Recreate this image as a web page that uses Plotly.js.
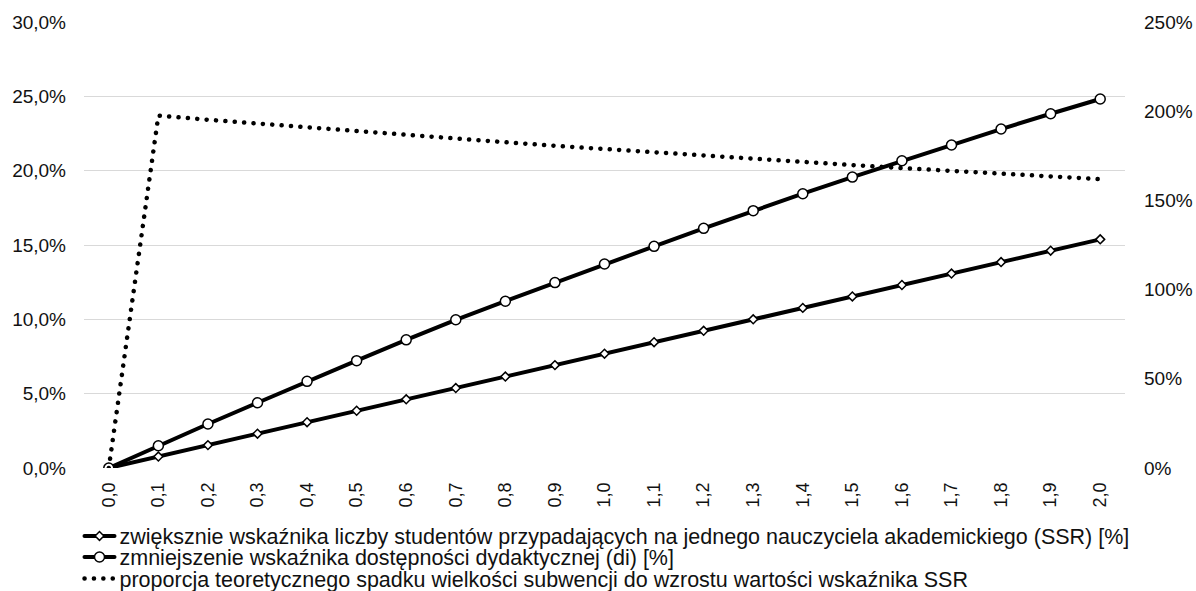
<!DOCTYPE html>
<html><head><meta charset="utf-8">
<script src="https://cdn.plot.ly/plotly-3.0.1.min.js"></script>
<style>html,body{margin:0;padding:0;background:#fff}#chart{width:1196px;height:591px}</style>
</head><body><div id="chart"></div>
<script>
const categories = ['0,0','0,1','0,2','0,3','0,4','0,5','0,6','0,7','0,8','0,9','1,0','1,1','1,2','1,3','1,4','1,5','1,6','1,7','1,8','1,9','2,0'];
const ssrIncrease = [0, 0.77, 1.54, 2.31, 3.08, 3.85, 4.62, 5.38, 6.15, 6.92, 7.69, 8.46, 9.23, 10.0, 10.77, 11.54, 12.31, 13.08, 13.85, 14.62, 15.38];
const diDecrease = [0, 1.50, 2.96, 4.39, 5.83, 7.22, 8.62, 9.97, 11.22, 12.47, 13.72, 14.91, 16.12, 17.31, 18.45, 19.57, 20.67, 21.73, 22.80, 23.83, 24.82];
const subsidyRatio = [0, 197.5, 195.2, 193.0, 190.8, 188.7, 186.6, 184.5, 182.6, 180.6, 178.7, 176.9, 175.1, 173.3, 171.5, 169.8, 168.1, 166.5, 164.9, 163.4, 161.9];
const seriesNames = [
  'zwiększnie wskaźnika liczby studentów przypadających na jednego nauczyciela akademickiego (SSR) [%]',
  'zmniejszenie wskaźnika dostępności dydaktycznej (di) [%]',
  'proporcja teoretycznego spadku wielkości subwencji do wzrostu wartości wskaźnika SSR'
];
const leftTicks = [0, 5, 10, 15, 20, 25, 30];
const rightTicks = [0, 50, 100, 150, 200, 250];

const txt = '#111';
const traces = [
  {x: categories, y: ssrIncrease, name: seriesNames[0], type: 'scatter', mode: 'lines+markers', legend: 'legend',
   line: {color: '#000', width: 4}, marker: {symbol: 'diamond', size: 6.8, color: '#fff', line: {color: '#000', width: 1.5}}},
  {x: categories, y: diDecrease, name: seriesNames[1], type: 'scatter', mode: 'lines+markers', legend: 'legend2',
   line: {color: '#000', width: 4}, marker: {symbol: 'circle', size: 10, color: '#fff', line: {color: '#000', width: 1.5}}},
  {x: categories, y: subsidyRatio, name: seriesNames[2], type: 'scatter', mode: 'lines', yaxis: 'y2', legend: 'legend3',
   line: {color: '#000', width: 4.5, dash: '0.1px,9.3px'}}
];
const legendBase = {orientation: 'v', xref: 'container', yref: 'container', x: 79.5 / 1196, xanchor: 'left', yanchor: 'middle',
  font: {size: 21.5, color: txt}, bgcolor: 'rgba(0,0,0,0)', borderwidth: 0};
const layout = {
  width: 1196, height: 591,
  margin: {l: 84, r: 71, t: 22, b: 123, autoexpand: false},
  paper_bgcolor: '#fff', plot_bgcolor: '#fff',
  separators: ', ',
  font: {family: 'Liberation Sans, Arial, sans-serif', size: 17, color: txt},
  showlegend: true,
  legend: Object.assign({}, legendBase, {y: (591 - 536) / 591}),
  legend2: Object.assign({}, legendBase, {y: (591 - 557) / 591}),
  legend3: Object.assign({}, legendBase, {y: (591 - 578.5) / 591}),
  xaxis: {type: 'category', range: [-0.5, 20.5], tickangle: -90, showgrid: false, zeroline: false,
    showline: false, ticks: '', tickfont: {size: 18, color: txt}, ticklabelstandoff: 10, fixedrange: true},
  yaxis: {range: [0, 30], tickvals: leftTicks, ticktext: leftTicks.map(v => v.toFixed(1).replace('.', ',') + '%'),
    showgrid: true, gridcolor: '#d9d9d9', gridwidth: 1, zeroline: false, showline: false, ticks: '',
    tickfont: {size: 19, color: txt}, ticklabelstandoff: 17},
  yaxis2: {range: [0, 250], overlaying: 'y', side: 'right', tickvals: rightTicks, ticktext: rightTicks.map(v => v + '%'),
    showgrid: false, zeroline: false, showline: false, ticks: '', tickfont: {size: 19, color: txt}, ticklabelstandoff: 18}
};
Plotly.newPlot('chart', traces, layout, {displayModeBar: false, staticPlot: true}).then(() => {
  document.querySelectorAll('#chart path.js-line').forEach(p => {
    p.style.strokeLinecap = 'round';
    p.style.strokeLinejoin = 'round';
  });
});
</script>
</body></html>
